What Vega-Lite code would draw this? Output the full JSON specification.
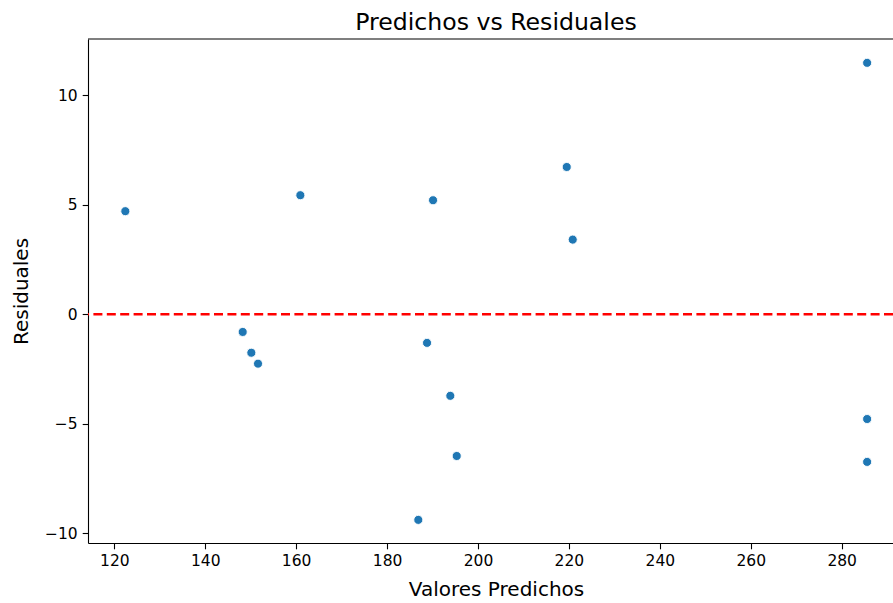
{
  "$schema": "https://vega.github.io/schema/vega-lite/v6.json",
  "autosize": {"type": "none"},
  "padding": {"left": 88, "top": 39, "right": 0, "bottom": 60},
  "width": 805,
  "height": 504,
  "background": "white",
  "config": {
    "view": {"stroke": null},
    "font": "DejaVu Sans",
    "axis": {
      "domainColor": "black",
      "domainWidth": 1.1,
      "tickColor": "black",
      "tickWidth": 1.1,
      "tickSize": 5.8,
      "labelColor": "black",
      "labelFont": "DejaVu Sans",
      "labelFontSize": 15.5,
      "titleFont": "DejaVu Sans",
      "titleFontSize": 20,
      "titleFontWeight": "normal",
      "titleColor": "black",
      "grid": false
    }
  },
  "title": {
    "text": "Predichos vs Residuales",
    "font": "DejaVu Sans",
    "fontSize": 23.6,
    "fontWeight": "normal",
    "color": "black",
    "anchor": "middle",
    "dx": 5.5,
    "dy": 24,
    "baseline": "alphabetic",
    "offset": 9
  },
  "datasets": {
    "residuos": [
      {"predicho": 122.42, "residual": 4.71},
      {"predicho": 148.24, "residual": -0.81},
      {"predicho": 150.14, "residual": -1.76},
      {"predicho": 151.61, "residual": -2.26},
      {"predicho": 160.92, "residual": 5.44},
      {"predicho": 186.87, "residual": -9.40},
      {"predicho": 188.79, "residual": -1.31},
      {"predicho": 190.11, "residual": 5.21},
      {"predicho": 193.91, "residual": -3.73},
      {"predicho": 195.32, "residual": -6.48},
      {"predicho": 219.52, "residual": 6.73},
      {"predicho": 220.84, "residual": 3.41},
      {"predicho": 285.6, "residual": 11.49},
      {"predicho": 285.6, "residual": -4.79},
      {"predicho": 285.6, "residual": -6.75}
    ],
    "lineas": [
      {"nivel": 0}
    ],
    "borde": [
      {"nivel": 12.58}
    ]
  },
  "layer": [
    {
      "data": {"name": "residuos"},
      "mark": {"type": "circle", "size": 82, "opacity": 1, "fill": "#1f77b4", "stroke": "white", "strokeWidth": 0.9},
      "encoding": {
        "x": {
          "field": "predicho",
          "type": "quantitative",
          "scale": {"domain": [114.21, 291.29], "nice": false, "zero": false},
          "axis": {
            "title": "Valores Predichos",
            "values": [120, 140, 160, 180, 200, 220, 240, 260, 280],
            "labelPadding": 5,
            "titleX": 408,
            "titleY": 52,
            "titleAnchor": null,
            "titleAlign": "center",
            "titleBaseline": "alphabetic"
          }
        },
        "y": {
          "field": "residual",
          "type": "quantitative",
          "scale": {"domain": [-10.457, 12.58], "nice": false, "zero": false},
          "axis": {
            "title": "Residuales",
            "values": [-10, -5, 0, 5, 10],
            "labelPadding": 5,
            "titleX": -61,
            "titleY": 252,
            "titleAngle": -90,
            "titleAlign": "center",
            "titleBaseline": "alphabetic"
          }
        }
      }
    },
    {
      "data": {"name": "lineas"},
      "mark": {"type": "rule", "color": "red", "strokeWidth": 2.5, "strokeDash": [9, 4.4]},
      "encoding": {"y": {"field": "nivel", "type": "quantitative"}}
    },
    {
      "data": {"name": "borde"},
      "mark": {"type": "rule", "color": "black", "strokeWidth": 1.1},
      "encoding": {"y": {"field": "nivel", "type": "quantitative"}}
    }
  ]
}
